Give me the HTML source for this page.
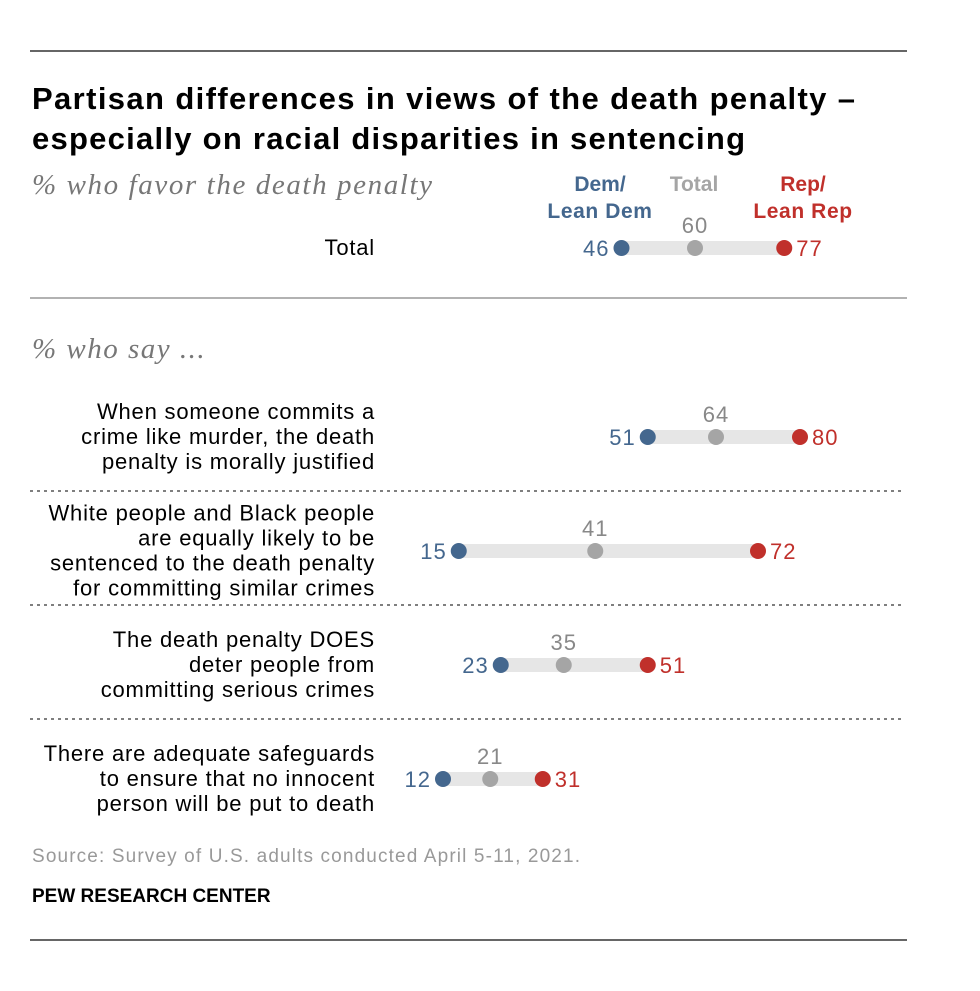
<!DOCTYPE html>
<html><head><meta charset="utf-8">
<style>
body{margin:0;background:#fff;width:980px;height:991px;overflow:hidden;font-family:"Liberation Sans",Arial,sans-serif;}
svg{display:block}
</style></head>
<body>
<svg id="chart" width="980" height="991" viewBox="0 0 980 991">
<line x1="30" y1="51" x2="907" y2="51" stroke="#333" stroke-width="1.5"/>
<text x="32" y="109" font-size="31" font-weight="bold" fill="#000" textLength="823" lengthAdjust="spacing">Partisan differences in views of the death penalty –</text>
<text x="32" y="149" font-size="31" font-weight="bold" fill="#000" textLength="713" lengthAdjust="spacing">especially on racial disparities in sentencing</text>
<text x="32" y="194" font-size="29" font-style="italic" fill="#777" font-family="Liberation Serif,serif" textLength="400" lengthAdjust="spacing">% who favor the death penalty</text>
<text x="600" y="191" font-size="21" font-weight="bold" fill="#44678e" text-anchor="middle">Dem/</text>
<text x="600" y="218" font-size="21" font-weight="bold" fill="#44678e" text-anchor="middle" letter-spacing="0.6">Lean Dem</text>
<text x="694" y="191" font-size="21" font-weight="bold" fill="#a5a5a5" text-anchor="middle">Total</text>
<text x="803" y="191" font-size="21" font-weight="bold" fill="#c0302b" text-anchor="middle">Rep/</text>
<text x="803" y="218" font-size="21" font-weight="bold" fill="#c0302b" text-anchor="middle" letter-spacing="0.6">Lean Rep</text>
<line x1="30" y1="298" x2="907" y2="298" stroke="#999" stroke-width="1.5"/>
<text x="32" y="358" font-size="29" font-style="italic" fill="#777" font-family="Liberation Serif,serif" letter-spacing="1.5">% who say ...</text>
<g id="rows"></g>
<text x="32" y="862" font-size="19" fill="#999" textLength="548" lengthAdjust="spacing">Source: Survey of U.S. adults conducted April 5-11, 2021.</text>
<text x="32" y="902" font-size="19" font-weight="bold" fill="#000">PEW RESEARCH CENTER</text>
<line x1="30" y1="940" x2="907" y2="940" stroke="#333" stroke-width="1.5"/>
</svg>
<script>
const categories=[["Total"],["When someone commits a","crime like murder, the death","penalty is morally justified"],["White people and Black people","are equally likely to be","sentenced to the death penalty","for committing similar crimes"],["The death penalty DOES","deter people from","committing serious crimes"],["There are adequate safeguards","to ensure that no innocent","person will be put to death"]];
const demValues=[46,51,15,23,12];
const totalValues=[60,64,41,35,21];
const repValues=[77,80,72,51,31];
const rowY=[248,437,551,665,779];
const x=v=>380+v*5.25;
const NS="http://www.w3.org/2000/svg";
const g=document.getElementById('rows');
function mk(tag,attrs,txt){const e=document.createElementNS(NS,tag);for(const k in attrs)e.setAttribute(k,attrs[k]);if(txt!==undefined)e.textContent=txt;g.appendChild(e);return e;}
categories.forEach((lines,i)=>{
  const y=rowY[i];
  const n=lines.length, lh=25;
  lines.forEach((l,j)=>{
    const t=mk('text',{x:375,y:y+7+(j-(n-1)/2)*lh,'font-size':22,fill:'#000','text-anchor':'end','letter-spacing':0.8},l);
    
    
  });
  const b=mk('rect',{x:x(demValues[i]),y:y-7,width:x(repValues[i])-x(demValues[i]),height:14,fill:'#e6e6e6'});
  
  
  const cd=mk('circle',{cx:x(demValues[i]),cy:y,r:8,fill:'#44678e'});
  
  
  const ct=mk('circle',{cx:x(totalValues[i]),cy:y,r:8,fill:'#a5a5a5'});
  
  
  const cr=mk('circle',{cx:x(repValues[i]),cy:y,r:8,fill:'#c0302b'});
  
  
  const ld=mk('text',{x:x(demValues[i])-12,y:y+8,'font-size':22,fill:'#44678e','text-anchor':'end','letter-spacing':1},demValues[i]);
  
  
  const lt=mk('text',{x:x(totalValues[i]),y:y-15,'font-size':22,fill:'#888','text-anchor':'middle','letter-spacing':1},totalValues[i]);
  
  
  const lr=mk('text',{x:x(repValues[i])+12,y:y+8,'font-size':22,fill:'#c0302b','letter-spacing':1},repValues[i]);
  
  
  if(i>=1&&i<categories.length-1){
    const d=mk('line',{x1:30,x2:903,y1:(rowY[i]+rowY[i+1])/2-3,y2:(rowY[i]+rowY[i+1])/2-3,stroke:'#555','stroke-width':1.5,'stroke-dasharray':'3,4'});
    
    
  }
});
</script>
</body></html>
